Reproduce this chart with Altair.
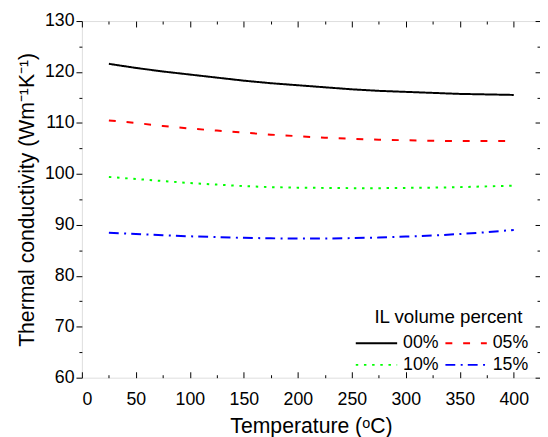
import altair as alt
import pandas as pd

# ---- data ----
temps = [25, 50, 75, 100, 125, 150, 175, 200, 225, 250, 275, 300, 325, 350, 375, 400]
series_names = ["00%", "05%", "10%", "15%"]
k_00 = [121.6, 120.8, 120.1, 119.5, 118.9, 118.3, 117.8, 117.4, 117.0, 116.6, 116.3, 116.1, 115.9, 115.7, 115.6, 115.5]
k_05 = [110.5, 110.0, 109.4, 108.9, 108.5, 108.1, 107.7, 107.4, 107.1, 106.9, 106.7, 106.6, 106.5, 106.45, 106.45, 106.45]
k_10 = [99.4, 99.0, 98.6, 98.2, 97.9, 97.6, 97.4, 97.3, 97.25, 97.2, 97.2, 97.25, 97.3, 97.4, 97.55, 97.7]
k_15 = [88.45, 88.2, 87.95, 87.75, 87.6, 87.45, 87.35, 87.3, 87.3, 87.4, 87.5, 87.7, 87.9, 88.2, 88.55, 89.0]
series_values = [k_00, k_05, k_10, k_15]

x_major = [0, 50, 100, 150, 200, 250, 300, 350, 400]
x_minor = [25, 75, 125, 175, 225, 275, 325, 375, 425]
y_major = [60, 70, 80, 90, 100, 110, 120, 130]
y_minor = [65, 75, 85, 95, 105, 115, 125]

colors = ["#000000", "#ff0000", "#00ff00", "#0000ff"]
dashes = [[1, 0], [7, 11], [2.5, 5.8], [10, 5.5, 2, 5.2]]

rows = []
for name, vals in zip(series_names, series_values):
    for t, v in zip(temps, vals):
        rows.append({"T": t, "k": v, "series": name})
df = pd.DataFrame(rows)

W, H = 465, 362
FONT = "Liberation Sans"

xscale = alt.Scale(domain=[0, 424.3], nice=False, zero=False)
yscale = alt.Scale(domain=[60, 130], nice=False, zero=False)

def ax(**kw):
    base = dict(grid=False, domain=False, tickColor="black", tickWidth=1,
                labelFont=FONT, labelColor="black", titleFont=FONT, titleColor="black")
    base.update(kw)
    return alt.Axis(**base)

no_lab = dict(labels=False, title=None)

base = alt.Chart(df)

lines = base.mark_line(strokeWidth=2).encode(
    x=alt.X("T:Q", scale=xscale,
            axis=ax(orient="bottom", values=x_major, ticks=False, labelPadding=13,
                    labelFontSize=18, title="Temperature (ᵒC)", titleFontSize=21.5,
                    titleFontWeight="normal", titlePadding=8)),
    y=alt.Y("k:Q", scale=yscale,
            axis=ax(orient="left", values=y_major, tickSize=6, labelPadding=2,
                    labelFontSize=18, title="Thermal conductivity (Wm⁻¹K⁻¹)",
                    titleFontSize=21.5, titleFontWeight="normal", titlePadding=6)),
    color=alt.Color("series:N", scale=alt.Scale(domain=series_names, range=colors),
                    legend=alt.Legend(title="IL volume percent", orient="none",
                                      direction="horizontal",
                                      legendX=290, legendY=291, columns=2,
                                      symbolType="M-5,0H5", symbolSize=70.56,
                                      symbolStrokeWidth=2, labelOffset=18,
                                      columnPadding=2, rowPadding=4,
                                      labelFont=FONT, labelFontSize=18, labelColor="black",
                                      titleFont=FONT, titleFontSize=19, titleColor="black",
                                      titleFontWeight="normal", titleAnchor="middle",
                                      titlePadding=8, padding=0)),
    strokeDash=alt.StrokeDash("series:N", scale=alt.Scale(domain=series_names, range=dashes),
                              legend=None),
)

def ghost(xaxis, yaxis):
    return base.mark_line(strokeOpacity=0).encode(
        x=alt.X("T:Q", scale=xscale, axis=xaxis),
        y=alt.Y("k:Q", scale=yscale, axis=yaxis),
        detail="series:N",
    )

l2 = ghost(ax(orient="top", offset=-H, values=x_major, tickSize=6, **no_lab),
           ax(orient="left", values=y_minor, tickSize=3, **no_lab))
l3 = ghost(ax(orient="top", offset=-H, values=x_minor, tickSize=3, **no_lab),
           ax(orient="left", offset=-W, values=y_major, tickSize=5, **no_lab))
l4 = ghost(ax(orient="bottom", offset=-H, values=x_major, tickSize=6, **no_lab),
           ax(orient="left", offset=-W, values=y_minor, tickSize=3, **no_lab))
l5 = ghost(ax(orient="bottom", offset=-H, values=x_minor, tickSize=3, **no_lab), None)

chart = alt.layer(lines, l2, l3, l4, l5).resolve_axis(
    x="independent", y="independent"
).properties(
    width=W, height=H,
    autosize=alt.AutoSizeParams(type="none"),
    padding={"left": 75, "top": 10, "right": 0, "bottom": 60},
).configure_view(
    stroke="black", strokeWidth=1
).configure(background="white")

chart.save("out.html", embed_options={"renderer": "svg", "actions": False})
